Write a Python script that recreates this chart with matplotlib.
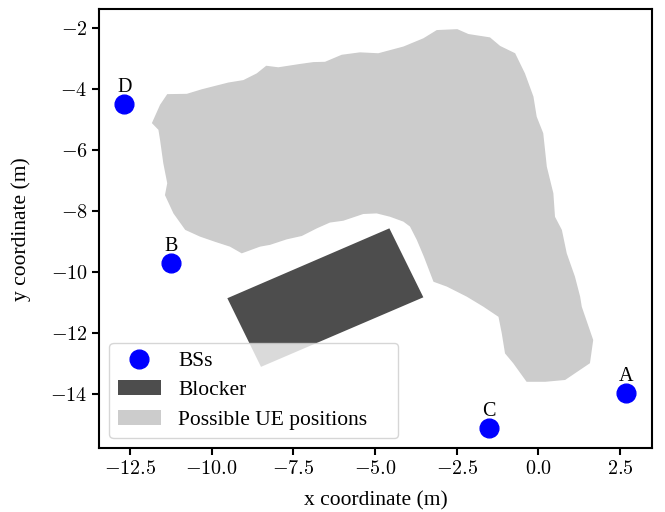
import matplotlib
matplotlib.use("Agg")
import matplotlib.pyplot as plt
from matplotlib.patches import Polygon
from matplotlib.ticker import FuncFormatter

plt.rcParams['font.family'] = ['Liberation Serif', 'DejaVu Serif']
plt.rcParams['mathtext.fontset'] = 'cm'
plt.rcParams['font.size'] = 15.5

# Base stations
bs_labels = ['A', 'B', 'C', 'D']
bs_x = [2.69, -11.24, -1.52, -12.67]
bs_y = [-13.95, -9.70, -15.11, -4.48]

# Blocker rectangle corners
blocker_x = [-9.52, -4.56, -3.52, -8.49]
blocker_y = [-10.85, -8.56, -10.82, -13.10]

# Possible UE positions region outline
ue_x = [-11.83, -11.58, -11.36, -10.76, -10.30, -9.49, -9.03, -8.62, -8.33, -7.96,
        -7.29, -6.89, -6.53, -6.02, -5.46, -4.90, -4.13, -3.52, -3.11, -2.48,
        -2.14, -1.78, -1.48, -1.17, -0.71, -0.41, -0.15, -0.05, 0.15, 0.26,
        0.46, 0.51, 0.72, 0.87, 1.12, 1.28, 1.33, 1.68, 1.58, 0.82,
        0.21, -0.36, -0.77, -1.02, -1.12, -1.22, -1.68, -2.19, -2.80, -3.21,
        -3.50, -3.72, -3.93, -4.13, -4.54, -4.95, -5.36, -5.97, -6.38, -6.78,
        -7.24, -7.70, -8.21, -8.52, -9.08, -9.44, -9.90, -10.36, -10.81, -11.17,
        -11.43, -11.36, -11.48, -11.58, -11.63]
ue_y = [-5.11, -4.51, -4.16, -4.15, -4.00, -3.78, -3.70, -3.48, -3.23, -3.28,
        -3.17, -3.11, -3.10, -2.87, -2.79, -2.82, -2.60, -2.33, -2.06, -2.03,
        -2.19, -2.25, -2.30, -2.58, -2.82, -3.48, -4.24, -4.90, -5.44, -6.54,
        -7.41, -8.18, -8.61, -9.38, -10.14, -10.80, -11.13, -12.22, -12.98, -13.53,
        -13.59, -13.59, -12.98, -12.66, -12.00, -11.46, -11.13, -10.80, -10.47, -10.31,
        -9.50, -8.94, -8.50, -8.34, -8.18, -8.07, -8.09, -8.31, -8.37, -8.56,
        -8.81, -8.92, -9.10, -9.16, -9.38, -9.16, -9.00, -8.83, -8.61, -8.07,
        -7.47, -7.08, -6.43, -5.66, -5.33]

x_ticks = [-12.5, -10, -7.5, -5, -2.5, 0, 2.5]
y_ticks = [-14, -12, -10, -8, -6, -4, -2]

fig = plt.figure(figsize=(6.65, 5.12), dpi=100)
ax = fig.add_axes([0.1493, 0.1244, 0.8307, 0.858])

ue = Polygon(list(zip(ue_x, ue_y)), closed=True, facecolor='#cccccc',
             edgecolor='none', label='Possible UE positions', zorder=1)
blk = Polygon(list(zip(blocker_x, blocker_y)), closed=True, facecolor='#4d4d4d',
              edgecolor='none', label='Blocker', zorder=2)
ax.add_patch(ue)
ax.add_patch(blk)
bs_line, = ax.plot(bs_x, bs_y, 'o', color='blue', ms=13.5, label='BSs', zorder=3)
for lab, x, y in zip(bs_labels, bs_x, bs_y):
    ax.annotate(lab, (x, y), xytext=(0, 5), textcoords='offset points',
                ha='center', va='bottom', fontsize=14.5)

ax.set_xlim(-13.44, 3.47)
ax.set_ylim(-15.77, -1.37)
ax.set_xticks(x_ticks)
ax.set_yticks(y_ticks)
ax.xaxis.set_major_formatter(FuncFormatter(lambda v, p: f'${v:.1f}$'))
ax.yaxis.set_major_formatter(FuncFormatter(lambda v, p: f'${v:.0f}$'))
ax.tick_params(labelsize=14.5, width=1.5, length=5)
ax.set_xlabel('x coordinate (m)', labelpad=9)
ax.set_ylabel('y coordinate (m)', labelpad=14)
for s in ax.spines.values():
    s.set_linewidth(1.5)

ax.legend(handles=[bs_line, blk, ue], loc='lower left', fontsize=15.5,
          mode='expand', bbox_to_anchor=(0.018, 0.023, 0.523, 0.0),
          borderaxespad=0.0, labelspacing=0.42)

fig.savefig('out.png', dpi=100)
